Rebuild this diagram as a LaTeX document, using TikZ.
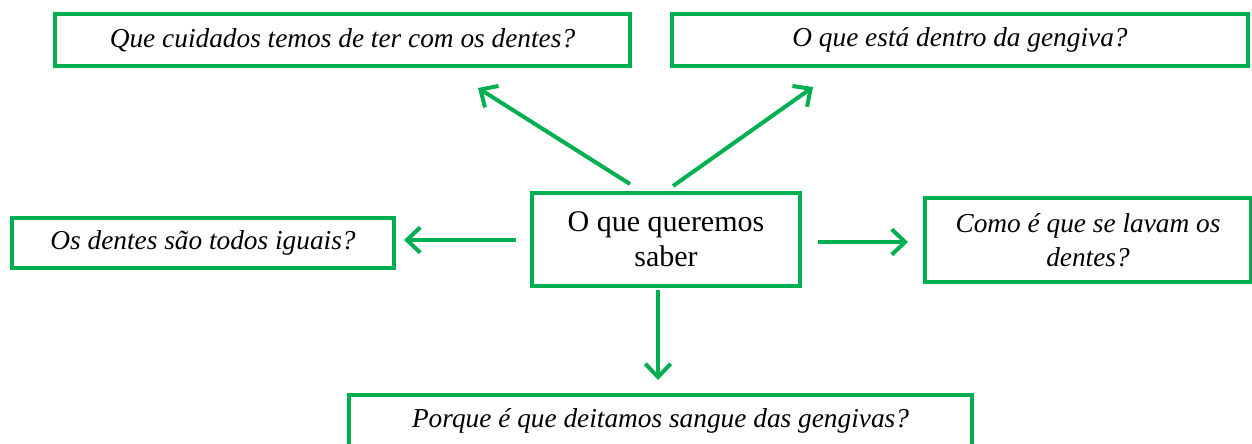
\documentclass[tikz,border=0pt]{standalone}
\usepackage{fontspec}
\setmainfont{Liberation Serif}
\usetikzlibrary{arrows.meta}
\definecolor{boxgreen}{RGB}{0,176,80}
\begin{document}
\begin{tikzpicture}[x=0.75pt,y=-0.75pt,
  box/.style={draw=boxgreen,line width=3pt,rectangle,inner sep=0pt,align=center,
    font=\fontsize{20.5}{25.5}\selectfont\itshape},
  mainbox/.style={box,font=\fontsize{22.5}{26.3}\selectfont},
  arr/.style={draw=boxgreen,line width=3pt,
    -{Straight Barb[length=10pt,width=19pt,line width=3pt]}}]
\useasboundingbox (0,0) rectangle (1252,443);
\node[box,minimum width=575*0.75pt,minimum height=52*0.75pt] (tl) at (342.5,40) {Que cuidados temos de ter com os dentes?};
\node[box,minimum width=576*0.75pt,minimum height=52*0.75pt] (tr) at (960,40) {O que está dentro da gengiva?};
\node[mainbox,minimum width=268*0.75pt,minimum height=93*0.75pt] (c) at (666,239.5) {O que queremos\\saber};
\node[box,minimum width=382*0.75pt,minimum height=50*0.75pt] (l) at (203,243) {Os dentes são todos iguais?};
\node[box,minimum width=326*0.75pt,minimum height=84*0.75pt] (r) at (1088,240) {Como é que se lavam os\\dentes?};
\node[box,minimum width=623*0.75pt,minimum height=52*0.75pt] (b) at (660.5,421) {Porque é que deitamos sangue das gengivas?};
\draw[arr] ([shift={(-36,-7)}]c.north) -- ([shift={(135.5,20)}]tl.south);
\draw[arr] ([shift={(7,-5)}]c.north) -- ([shift={(-147,19)}]tr.south);
\draw[arr] ([shift={(-14,0.5)}]c.west) -- ([shift={(8,-3)}]l.east);
\draw[arr] ([shift={(16,2.5)}]c.east) -- ([shift={(-15,2)}]r.west);
\draw[arr] ([shift={(-8,2)}]c.south) -- ([shift={(-2.5,-13)}]b.north);
\end{tikzpicture}
\end{document}
